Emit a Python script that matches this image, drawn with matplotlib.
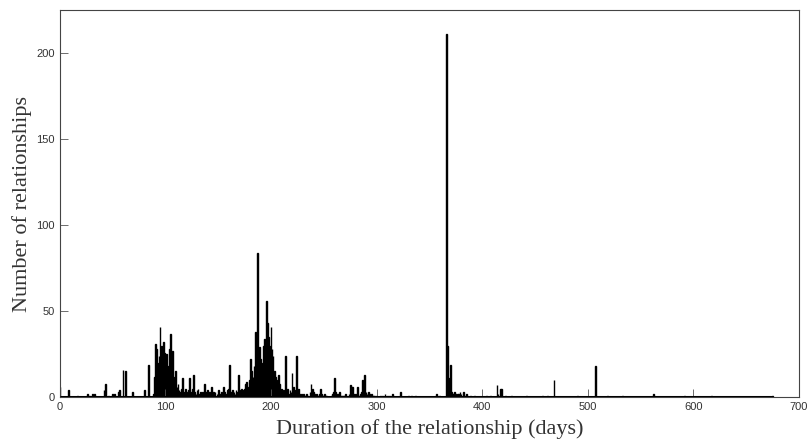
import numpy as np
import matplotlib
matplotlib.use('Agg')
import matplotlib.pyplot as plt

# nonzero days, every other day up to 675 is zero
days = [0, 8, 17, 22, 26, 28, 31, 33, 42, 43, 46, 50, 52, 56, 57, 60, 62, 69, 80, 84, 89,
        90, 91, 92, 93, 94, 95, 96, 97, 98, 99, 100, 101, 102, 103, 104, 105, 106, 107, 108, 109,
        110, 111, 112, 113, 114, 115, 116, 117, 118, 119, 120, 121, 122, 123, 124, 125, 126, 127, 128, 129,
        130, 131, 132, 133, 134, 135, 136, 137, 138, 139, 140, 141, 142, 143, 144, 145, 146, 147, 148, 149,
        150, 151, 152, 153, 154, 155, 156, 157, 158, 159, 160, 161, 162, 163, 164, 165, 166, 167, 168, 169,
        170, 171, 172, 173, 174, 175, 176, 177, 178, 179, 180, 181, 182, 183, 184, 185, 186, 187, 188, 189,
        190, 191, 192, 193, 194, 195, 196, 197, 198, 199, 200, 201, 202, 203, 204, 205, 206, 207, 208, 209,
        210, 211, 212, 213, 214, 215, 216, 217, 218, 219, 220, 221, 222, 223, 224, 225, 226, 227, 228, 229,
        230, 231, 232, 233, 234, 235, 236, 237, 238, 239, 240, 241, 242, 243, 244, 245, 246, 247, 248, 249,
        250, 251, 252, 253, 254, 255, 256, 257, 258, 259, 260, 261, 262, 263, 264, 265, 266, 267, 268, 269,
        270, 271, 272, 273, 274, 275, 276, 277, 278, 279, 280, 281, 282, 283, 284, 285, 286, 287, 288, 289,
        290, 291, 292, 293, 294, 295, 296, 297, 298, 300, 304, 306, 308, 310, 312, 315, 323, 330, 333, 337,
        345, 357, 360, 362, 366, 367, 368, 369, 370, 371, 372, 373, 374, 375, 376, 377, 378, 379, 380, 381,
        382, 383, 385, 389, 393, 397, 404, 408, 414, 415, 417, 418, 422, 428, 442, 452, 457, 462, 468, 490,
        507, 519, 522, 533, 562, 592, 617, 675]
counts = [6, 4, 1, 1, 2, 1, 2, 2, 4, 8, 1, 2, 2, 3, 4, 16, 15, 3, 4, 19, 2,
          12, 31, 28, 20, 24, 41, 30, 25, 32, 26, 24, 25, 18, 14, 28, 37, 22, 27, 12, 10,
          15, 6, 8, 4, 3, 5, 11, 3, 2, 5, 3, 2, 4, 11, 3, 2, 5, 13, 3, 2,
          4, 5, 2, 3, 2, 3, 2, 8, 3, 1, 4, 2, 3, 1, 6, 2, 3, 3, 1, 2,
          4, 2, 1, 3, 2, 6, 3, 1, 2, 4, 5, 19, 3, 2, 4, 3, 2, 4, 3, 13,
          4, 3, 5, 4, 3, 5, 8, 9, 4, 6, 10, 22, 15, 12, 18, 38, 20, 84, 25, 29,
          22, 18, 20, 30, 34, 28, 56, 43, 35, 30, 41, 28, 24, 15, 12, 10, 6, 13, 8, 4,
          5, 3, 4, 2, 24, 3, 5, 2, 4, 3, 14, 6, 3, 4, 24, 3, 5, 2, 1, 2,
          1, 2, 1, 1, 2, 1, 1, 3, 8, 5, 3, 2, 1, 2, 1, 1, 2, 5, 2, 1,
          1, 2, 1, 1, 1, 1, 1, 1, 2, 3, 11, 3, 2, 1, 2, 3, 1, 1, 1, 1,
          1, 2, 1, 1, 2, 7, 6, 6, 2, 1, 2, 1, 6, 1, 1, 2, 3, 10, 4, 13,
          3, 2, 3, 2, 1, 2, 1, 1, 1, 1, 1, 1, 2, 1, 1, 2, 3, 1, 1, 1,
          1, 2, 1, 1, 211, 30, 5, 11, 19, 3, 2, 2, 3, 2, 1, 2, 2, 3, 2, 1,
          3, 1, 2, 1, 1, 1, 1, 1, 7, 2, 5, 5, 1, 1, 1, 1, 1, 1, 10, 1,
          18, 1, 1, 1, 2, 1, 1, 1]

x_ticks = [0, 100, 200, 300, 400, 500, 600, 700]
y_ticks = [0, 50, 100, 150, 200]

all_days = np.arange(0, 676)
hist = np.zeros(len(all_days))
hist[days] = counts

fig = plt.figure(figsize=(8.09, 4.41), dpi=100)
ax = fig.add_axes([0.0738, 0.0991, 0.9138, 0.8782])

ax.bar(all_days, hist, width=0.8, color='black', edgecolor='black', linewidth=1.0)
# zero-height bars leave a black baseline in the original
ax.hlines(0, all_days[0], all_days[-1], color='black', linewidth=2.2, zorder=3)

ax.set_xlim(0, 700)
ax.set_ylim(0, 225)
ax.set_xticks(x_ticks)
ax.set_yticks(y_ticks)
ax.tick_params(direction='in', length=5.5, width=0.6, color='#555555',
               labelsize=8, labelcolor='#333333', top=False, right=False)
for lab in ax.get_xticklabels() + ax.get_yticklabels():
    lab.set_family('Liberation Sans')
for sp in ax.spines.values():
    sp.set_color('#444444')
    sp.set_linewidth(0.8)

ax.set_xlabel('Duration of the relationship (days)', family='Liberation Serif',
              fontsize=16, color='#333333', labelpad=5)
ax.set_ylabel('Number of relationships', family='Liberation Serif',
              fontsize=16, color='#333333', labelpad=3)

fig.savefig('out.png', dpi=100)
